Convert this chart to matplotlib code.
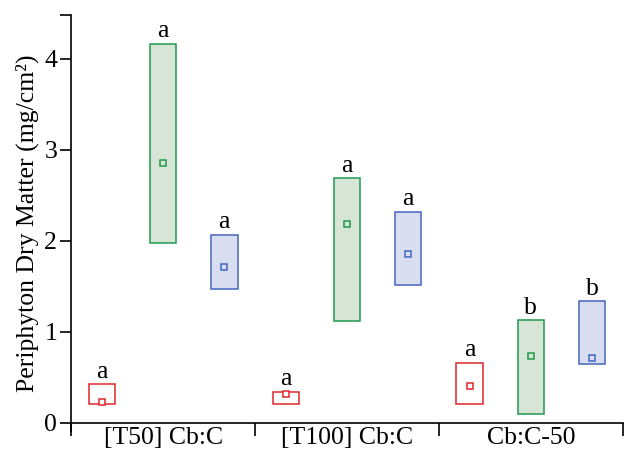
import matplotlib
matplotlib.use("Agg")
import matplotlib.pyplot as plt
import numpy as np

plt.rcParams["font.family"] = ["Liberation Serif", "DejaVu Serif"]

groups = ["[T50] Cb:C", "[T100] Cb:C", "Cb:C-50"]
series = ["red", "green", "blue"]

# box low / high and mean marker per series, one value per group
low = {
    "red": [0.21, 0.21, 0.21],
    "green": [1.98, 1.125, 0.095],
    "blue": [1.476, 1.51, 0.648],
}
high = {
    "red": [0.425, 0.345, 0.663],
    "green": [4.165, 2.69, 1.13],
    "blue": [2.066, 2.32, 1.337],
}
mean = {
    "red": [0.225, 0.32, 0.41],
    "green": [2.86, 2.19, 0.74],
    "blue": [1.71, 1.855, 0.717],
}
letters = {
    "red": ["a", "a", "a"],
    "green": ["a", "a", "b"],
    "blue": ["a", "a", "b"],
}

edge = {"red": "#e0262b", "green": "#1e9a4e", "blue": "#4565c0"}
fill = {"red": "white", "green": "#d6e5d6", "blue": "#d9ddf0"}
offset = {"red": -1 / 3, "green": 0.0, "blue": 1 / 3}

fs = 18.5

fig = plt.figure(figsize=(6.24, 4.57), dpi=100)
ax = fig.add_axes([0.114, 0.057, 0.884, 0.910])

centers = np.arange(len(groups)) + 0.5
width = 0.143
for s in series:
    x = centers + offset[s]
    lo = np.array(low[s])
    hi = np.array(high[s])
    ax.bar(x, hi - lo, bottom=lo, width=width, color=fill[s],
           edgecolor=edge[s], linewidth=1.1, zorder=2)
    ax.plot(x, mean[s], ls="none", marker="s", ms=5, mfc=fill[s],
            mec=edge[s], mew=1.1, zorder=3)
    for xi, h, t in zip(x, hi, letters[s]):
        ax.annotate(t, (xi, h), xytext=(0, 1), textcoords="offset points",
                    ha="center", va="bottom", fontsize=fs)

ax.set_xlim(0, 3)
ax.set_ylim(-0.088, 4.48)
ax.spines["top"].set_visible(False)
ax.spines["right"].set_visible(False)
ax.spines["bottom"].set_position(("data", 0))
ax.spines["left"].set_linewidth(1.2)
ax.spines["bottom"].set_linewidth(1.2)

ax.set_xticks([0, 1, 2, 3])
ax.set_xticklabels([])
ax.set_xticks(centers, minor=True)
ax.set_xticklabels(groups, minor=True, fontsize=fs)
ax.tick_params(axis="x", which="major", direction="out", length=9, width=1.2)
ax.tick_params(axis="x", which="minor", length=0, pad=3)

ax.set_yticks([0, 1, 2, 3, 4])
ax.set_yticks([4.48], minor=True)
ax.tick_params(axis="y", which="both", direction="out", length=8, width=1.2,
               labelsize=fs, pad=2)
ax.set_ylabel("Periphyton Dry Matter (mg/cm²)", fontsize=fs, labelpad=4)

fig.savefig("out.png", dpi=100)
